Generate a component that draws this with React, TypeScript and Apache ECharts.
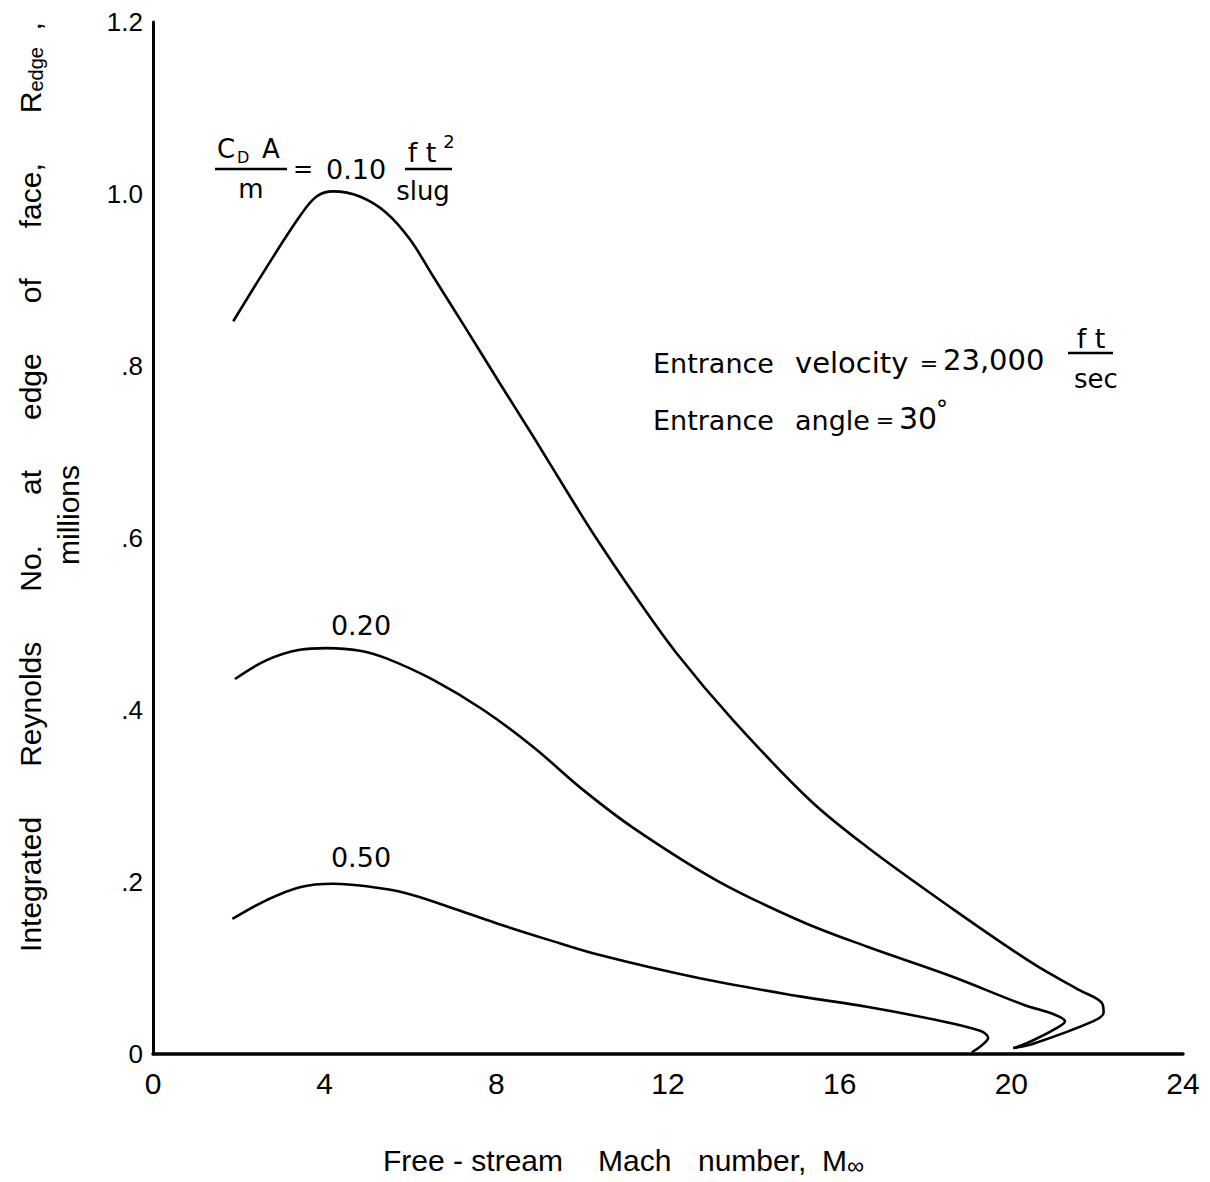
import React, { useEffect, useRef } from "react";
import * as echarts from "echarts";

// Axis tick labels
const xTickLabels = ["0", "4", "8", "12", "16", "20", "24"];
const yTickLabels = ["0", ".2", ".4", ".6", ".8", "1.0", "1.2"];

// C_D A / m = 0.10 ft^2/slug
const mach010 = [1.87, 2.65, 3.42, 3.81, 4.2, 4.82, 5.44, 5.99, 6.53, 7.31, 8.08, 8.86, 9.72, 10.26, 11.19, 12.2, 13.52, 15.31, 16.63, 18.57, 20.51, 21.6, 22.1, 22.15, 21.9, 20.51, 20.04];
const rey010 = [0.852, 0.915, 0.974, 0.997, 1.003, 0.997, 0.978, 0.947, 0.904, 0.842, 0.78, 0.718, 0.648, 0.605, 0.536, 0.466, 0.388, 0.295, 0.241, 0.171, 0.105, 0.074, 0.06, 0.048, 0.038, 0.012, 0.007];

// 0.20
const mach020 = [1.91, 2.65, 3.42, 4.05, 4.82, 5.44, 6.53, 7.7, 8.86, 10.0, 11.19, 13.13, 15.07, 16.63, 18.57, 20.3, 21.0, 21.25, 20.98, 20.51, 20.08];
const rey020 = [0.436, 0.458, 0.47, 0.472, 0.469, 0.46, 0.435, 0.4, 0.357, 0.308, 0.263, 0.202, 0.155, 0.125, 0.091, 0.057, 0.046, 0.038, 0.028, 0.016, 0.007];

// 0.50
const mach050 = [1.85, 2.65, 3.42, 4.2, 4.98, 5.9, 6.9, 8.0, 9.2, 10.41, 12.74, 15.07, 16.63, 18.2, 19.27, 19.46, 19.31, 19.08];
const rey050 = [0.157, 0.179, 0.194, 0.198, 0.195, 0.187, 0.171, 0.152, 0.133, 0.115, 0.088, 0.067, 0.055, 0.04, 0.027, 0.019, 0.01, 0.002];

const pairs = (xs: number[], ys: number[]) => xs.map((x, i) => [x, ys[i]]);

const ANN = "'DejaVu Sans', sans-serif";
const AX = "'Liberation Sans', Arial, sans-serif";

function txt(text: string, x: number, y: number, size: number, align = "left", font = ANN, extra: any = {}) {
  return {
    type: "text",
    x,
    y,
    z: 10,
    ...extra,
    style: { text, fill: "#000", fontSize: size, fontFamily: font, align, verticalAlign: "middle" },
  };
}
function hline(x1: number, x2: number, y: number) {
  return { type: "line", z: 10, shape: { x1, y1: y, x2, y2: y }, style: { stroke: "#000", lineWidth: 2.5 } };
}

export default function App() {
  const ref = useRef<HTMLDivElement>(null);
  useEffect(() => {
    const chart = echarts.init(ref.current!, null, { renderer: "svg" });
    const lineStyle = { color: "#000", width: 2.6 };
    const nb = "\u00a0";
    const gap = nb.repeat(6);
    chart.setOption({
      animation: false,
      backgroundColor: "#fff",
      grid: { left: 153, right: 27, top: 22, bottom: 128 },
      xAxis: {
        type: "value",
        min: 0,
        max: 24,
        interval: 4,
        axisLine: { show: true, lineStyle: { color: "#000", width: 3.5 } },
        axisTick: { show: false },
        splitLine: { show: false },
        axisLabel: {
          color: "#000",
          fontSize: 30,
          fontFamily: AX,
          margin: 14,
          formatter: (v: number) => xTickLabels[Math.round(v / 4)],
        },
      },
      yAxis: {
        type: "value",
        min: 0,
        max: 1.2,
        interval: 0.2,
        axisLine: { show: true, lineStyle: { color: "#000", width: 3 } },
        axisTick: { show: false },
        splitLine: { show: false },
        axisLabel: {
          color: "#000",
          fontSize: 26,
          fontFamily: AX,
          margin: 10,
          formatter: (v: number) => yTickLabels[Math.round(v / 0.2)],
        },
      },
      series: [
        { type: "line", data: pairs(mach010, rey010), smooth: 0.35, showSymbol: false, lineStyle },
        { type: "line", data: pairs(mach020, rey020), smooth: 0.35, showSymbol: false, lineStyle },
        { type: "line", data: pairs(mach050, rey050), smooth: 0.35, showSymbol: false, lineStyle },
      ],
      graphic: [
        // C_D A / m = 0.10 ft^2/slug
        txt("C", 217, 149, 26),
        txt("D", 237, 157, 16),
        txt("A", 262, 149, 26),
        hline(215, 287, 169),
        txt("m", 251, 189, 26, "center"),
        txt("=", 303, 169, 24, "center"),
        txt("0.10", 326, 169, 27),
        txt("f\u00a0t", 422, 152, 27, "center"),
        txt("2", 449, 141, 18, "center"),
        hline(405, 452, 169),
        txt("slug", 423, 191, 26, "center"),
        // curve labels
        txt("0.20", 361, 625, 27, "center"),
        txt("0.50", 361, 857, 27, "center"),
        // entrance conditions
        txt("Entrance", 653, 363, 27),
        txt("velocity", 795, 363, 29),
        txt("=", 929, 363, 22, "center"),
        txt("23,000", 943, 360, 29),
        txt("f\u00a0t", 1091, 338, 27, "center"),
        hline(1068, 1113, 353),
        txt("sec", 1096, 379, 26, "center"),
        txt("Entrance", 653, 420, 27),
        txt("angle", 795, 420, 27),
        txt("=", 885, 420, 22, "center"),
        txt("30", 899, 418, 30),
        txt("\u00b0", 942, 410, 24, "center"),
        // axis titles
        {
          type: "text",
          x: 30,
          y: 487,
          rotation: Math.PI / 2,
          z: 10,
          style: {
            text: `{n|Integrated${gap}Reynolds${gap}No.${gap}at${gap}edge${gap}of${gap}face,${gap}R}{s|edge}{n|${nb}${nb},}`,
            fill: "#000",
            align: "center",
            verticalAlign: "middle",
            rich: {
              n: { fontSize: 30, fontFamily: AX, fill: "#000", height: 36, verticalAlign: "middle" },
              s: { fontSize: 20, fontFamily: AX, fill: "#000", height: 36, verticalAlign: "bottom", padding: [12, 0, 0, 0] },
            },
          },
        },
        {
          type: "text",
          x: 68,
          y: 515,
          rotation: Math.PI / 2,
          z: 10,
          style: { text: "millions", fill: "#000", fontSize: 30, fontFamily: AX, align: "center", verticalAlign: "middle" },
        },
        txt("Free - stream", 383, 1160, 30, "left", AX),
        txt("Mach", 598, 1160, 30, "left", AX),
        txt("number,", 698, 1160, 30, "left", AX),
        txt("M", 822, 1160, 30, "left", AX),
        txt("\u221e", 847, 1165, 24, "left", AX),
      ],
    });
    return () => chart.dispose();
  }, []);
  return (
    <div
      ref={ref}
      style={{ position: "absolute", left: 0, top: 0, width: 1210, height: 1182, background: "#fff" }}
    />
  );
}
